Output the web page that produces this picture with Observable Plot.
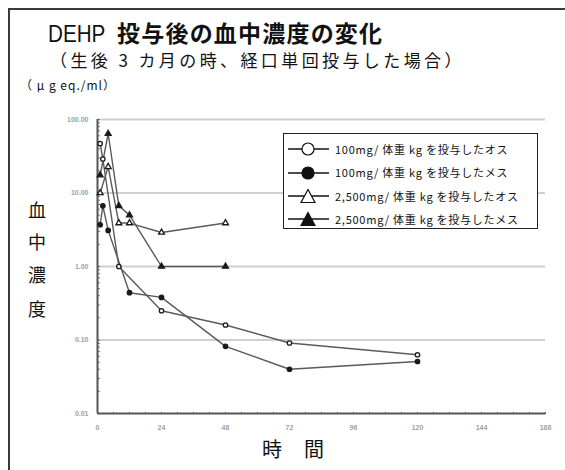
<!DOCTYPE html>
<html><head><meta charset="utf-8">
<script src="https://cdn.jsdelivr.net/npm/d3@7"></script>
<script src="https://cdn.jsdelivr.net/npm/@observablehq/plot@0.6"></script>
<style>
html,body{margin:0;padding:0;background:#fff;}
#wrap{position:relative;width:565px;height:470px;overflow:hidden;font-family:"Noto Sans CJK JP","Noto Sans",sans-serif;color:#111;}
#frame{position:absolute;left:8px;top:8px;width:600px;height:500px;border-top:2px solid #3a3a3a;border-left:2px solid #3a3a3a;}
.t{position:absolute;white-space:nowrap;}
#title{left:48px;top:21px;font-size:23px;line-height:23px;letter-spacing:1.2px;}
#title .lat{font-family:"Liberation Sans",Arial,sans-serif;font-weight:normal;display:inline-block;font-size:24px;transform:scaleX(0.86);transform-origin:left center;margin-right:-4px;letter-spacing:0;}
#title b{font-weight:bold;}
#sub{left:50px;top:51px;font-size:17px;line-height:17px;letter-spacing:3.4px;}
#unit{left:20px;top:79px;font-size:12px;line-height:12px;letter-spacing:1px;}
.ylab{left:28px;font-size:18px;line-height:18px;}
#xlab{left:262px;top:439px;font-size:20px;line-height:20px;letter-spacing:22px;}
#chart{position:absolute;left:0;top:100px;}
#legend{position:absolute;left:283px;top:133px;width:253px;height:94px;border:1.5px solid #222;background:#fff;}
.lrow{position:absolute;left:0;height:16px;display:flex;align-items:center;}
.lrow svg{display:block;}
.lrow span{margin-left:5px;font-size:11px;letter-spacing:0.75px;line-height:11px;}
</style></head>
<body>
<div id="wrap">
  <div id="frame"></div>
  <div class="t" id="title"><span class="lat">DEHP</span> <b>投与後の血中濃度の変化</b></div>
  <div class="t" id="sub">（生後 3 カ月の時、経口単回投与した場合）</div>
  <div class="t" id="unit">（ μ g eq./ml）</div>
  <div class="t ylab" style="top:200px">血</div>
  <div class="t ylab" style="top:232px">中</div>
  <div class="t ylab" style="top:265px">濃</div>
  <div class="t ylab" style="top:299px">度</div>
  <div class="t" id="xlab">時間</div>
  <div id="chart"></div>
  <div id="legend"></div>
</div>
<script>
// ---- data (hours after dosing, μg eq./ml) ----
const seriesNames = [
  "100mg/ 体重 kg を投与したオス",
  "100mg/ 体重 kg を投与したメス",
  "2,500mg/ 体重 kg を投与したオス",
  "2,500mg/ 体重 kg を投与したメス"
];
const lowMaleHours   = [1, 2, 8, 24, 48, 72, 120];
const lowMaleConc    = [47, 29, 1.0, 0.25, 0.16, 0.091, 0.063];
const lowFemaleHours = [1, 2, 4, 12, 24, 48, 72, 120];
const lowFemaleConc  = [3.7, 6.7, 3.1, 0.44, 0.38, 0.082, 0.040, 0.051];
const highMaleHours  = [1, 4, 8, 12, 24, 48];
const highMaleConc   = [10, 22.7, 3.9, 3.9, 2.9, 3.9];
const highFemaleHours= [1, 4, 8, 12, 24, 48];
const highFemaleConc = [17.5, 64, 6.7, 5.0, 1.0, 1.0];

const xTickValues = [0, 24, 48, 72, 96, 120, 144, 168];
const yTickValues = [100, 10, 1, 0.1, 0.01];
const yTickLabels = ["100.00", "10.00", "1.00", "0.10", "0.01"];

const seriesHours = [lowMaleHours, lowFemaleHours, highMaleHours, highFemaleHours];
const seriesConc  = [lowMaleConc, lowFemaleConc, highMaleConc, highFemaleConc];
const seriesSymbol = ["circle", "circle", "triangle", "triangle"];
const seriesFilled = [false, true, false, true];

const rows = [];
seriesNames.forEach((name, i) => {
  seriesHours[i].forEach((t, j) => rows.push({series: name, idx: i, t, v: seriesConc[i][j]}));
});

const minorX = d3.range(0, 169, 6);
const minorY = [];
[0.01, 0.1, 1, 10].forEach(d => { for (let k = 1; k <= 9; k++) minorY.push(d * k); });
minorY.push(100);

const fmt = d => yTickLabels[yTickValues.indexOf(d)];

const dotMarks = seriesNames.map((name, i) =>
  Plot.dot(rows.filter(r => r.idx === i), {
    x: "t", y: "v", symbol: seriesSymbol[i], r: 2.2,
    fill: seriesFilled[i] ? "#1a1a1a" : "#fff",
    stroke: "#1a1a1a", strokeWidth: 1.3
  })
);

const chart = Plot.plot({
  width: 565, height: 350,
  marginLeft: 97, marginRight: 20, marginTop: 19, marginBottom: 37,
  x: {domain: [0, 168]},
  y: {type: "log", domain: [0.01, 100]},
  style: {background: "transparent", fontFamily: "'Liberation Sans', Arial, sans-serif"},
  marks: [
    Plot.ruleY(yTickValues.filter(d => d > 0.01), {x1: 0, x2: 168, stroke: "#cfcfcf", strokeWidth: 2}),
    Plot.axisY(yTickValues, {anchor: "left", tickSize: 0, tickPadding: 9, tickFormat: fmt, fontSize: 7, fontWeight: "bold", color: "#a0a0a0", label: null}),
    Plot.axisY(minorY, {anchor: "left", tickSize: 3, dx: 3, tickFormat: () => "", color: "#777", label: null}),
    Plot.axisX(xTickValues, {anchor: "bottom", tickSize: 0, tickPadding: 12, fontSize: 7, fontWeight: "bold", color: "#a0a0a0", label: null}),
    Plot.axisX(minorX, {anchor: "bottom", tickSize: 2, dy: -1, tickFormat: () => "", color: "#555", label: null}),
    Plot.ruleX([0], {y1: 0.01, y2: 100, stroke: "#555", strokeWidth: 2}),
    Plot.ruleY([0.01], {x1: 0, x2: 168, stroke: "#555", strokeWidth: 2}),
    Plot.line(rows, {x: "t", y: "v", z: "series", stroke: "#5a5a5a", strokeWidth: 1.4}),
    ...dotMarks
  ]
});
document.getElementById("chart").appendChild(chart);

// ---- legend ----
const legend = document.getElementById("legend");
const rowTops = [7, 30.5, 54, 77];
seriesNames.forEach((name, i) => {
  const row = document.createElement("div");
  row.className = "lrow";
  row.style.top = rowTops[i] + "px";
  const ns = "http://www.w3.org/2000/svg";
  const svg = document.createElementNS(ns, "svg");
  svg.setAttribute("width", 46); svg.setAttribute("height", 16);
  const line = document.createElementNS(ns, "line");
  line.setAttribute("x1", 4); line.setAttribute("x2", 45);
  line.setAttribute("y1", 8); line.setAttribute("y2", 8);
  line.setAttribute("stroke", "#111"); line.setAttribute("stroke-width", 1.3);
  svg.appendChild(line);
  const fill = seriesFilled[i] ? "#111" : "#fff";
  let m;
  if (seriesSymbol[i] === "circle") {
    m = document.createElementNS(ns, "circle");
    m.setAttribute("cx", 24); m.setAttribute("cy", 8); m.setAttribute("r", 6);
  } else {
    m = document.createElementNS(ns, "path");
    m.setAttribute("d", "M24,1.5L31,14.5L17,14.5Z");
  }
  m.setAttribute("fill", fill); m.setAttribute("stroke", "#111"); m.setAttribute("stroke-width", 1.2);
  svg.appendChild(m);
  row.appendChild(svg);
  const s = document.createElement("span");
  s.textContent = name;
  row.appendChild(s);
  legend.appendChild(row);
});
</script>
</body></html>
